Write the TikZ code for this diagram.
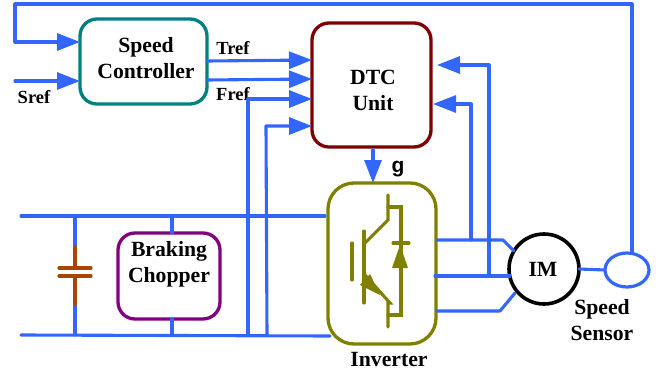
\documentclass[tikz,border=0pt]{standalone}
\usepackage{fontspec}
\setmainfont{Liberation Serif}
\setsansfont{Liberation Sans}
\usetikzlibrary{arrows.meta,calc,shapes.geometric}
\definecolor{wire}{RGB}{51,102,255}
\definecolor{tealbox}{RGB}{0,128,128}
\definecolor{redbox}{RGB}{128,0,0}
\definecolor{olivebox}{RGB}{128,128,0}
\definecolor{purplebox}{RGB}{128,0,128}
\definecolor{capbrown}{RGB}{170,68,0}
\tikzset{
  x=1pt,y=-1pt,
  box/.style={draw,line width=3.3pt,rounded corners=17pt,outer sep=0pt,inner sep=0pt,anchor=north west},
  big/.style={font=\fontsize{21.7}{24}\selectfont\bfseries,anchor=base,inner sep=0pt},
  small/.style={font=\fontsize{18.5}{20}\selectfont\bfseries,anchor=base,inner sep=0pt},
  wireline/.style={draw=wire,line width=3.1pt,line cap=round,line join=round},
  flow/.style={wireline,-{Triangle[length=23pt,width=17pt]}},
  igbt/.style={draw=olivebox,line width=3.1pt,line cap=round,line join=miter},
  capline/.style={draw=capbrown,line width=3.2pt,line cap=round},
}
\begin{document}
\begin{tikzpicture}
\useasboundingbox (0,0) rectangle (662,375);
% blocks
\node[box,draw=tealbox,minimum width=127pt,minimum height=85pt] (sc) at (80,19) {};
\node[box,draw=redbox,minimum width=119pt,minimum height=124pt] (dtc) at (312,23) {};
\node[box,draw=olivebox,rounded corners=26pt,minimum width=108pt,minimum height=161pt] (inv) at (328,183) {};
\node[box,draw=purplebox,minimum width=102pt,minimum height=86pt] (bc) at (118,233) {};
\node[draw=black,circle,line width=3.6pt,minimum size=70pt,inner sep=0pt,outer sep=0pt] (im) at (544,269) {};
\node[draw=wire,ellipse,line width=3.2pt,minimum width=44pt,minimum height=34pt,inner sep=0pt,outer sep=0pt] (sensor) at (627,270) {};
% named ends and corners
\coordinate (topL) at (15,4);
\coordinate (topR) at (632,4);
\coordinate (fbL) at (15,42);
\coordinate (srefS) at (15,81);
\coordinate (gS) at (373,150);
\coordinate (busTL) at (21,216);
\coordinate (busTR) at (325,216);
\coordinate (busBL) at (21,335);
\coordinate (busBR) at (330,336);
\coordinate (capT) at (75,216);
\coordinate (capB) at (75,335);
\coordinate (capTa) at (75,247);
\coordinate (capP1) at (75,268);
\coordinate (capP2) at (75,276);
\coordinate (capBa) at (75,304);
\coordinate (stubT) at (172,216);
\coordinate (stubB) at (172,335);
\coordinate (frefB) at (248,335);
\coordinate (frefC) at (248,99);
\coordinate (vdcB) at (267,335);
\coordinate (vdcC) at (266,126);
\coordinate (p1a) at (437,240);
\coordinate (p1b) at (503,240);
\coordinate (p1c) at (514,251);
\coordinate (p2a) at (435,276);
\coordinate (p2b) at (510,276);
\coordinate (p3a) at (437,311);
\coordinate (p3b) at (500,311);
\coordinate (p3c) at (515,293);
\coordinate (ia) at (471,240);
\coordinate (ib) at (471,104);
\coordinate (ic) at (433,104);
\coordinate (ja) at (489,276);
\coordinate (jb) at (489,65);
\coordinate (jc) at (437,65);
% labels under the wires
\node[small] (t12) at (233,100) {Fref};
% top half connectors
\draw[flow] (sensor.north -| topR) -- (topR) -- (topL) -- (fbL) -- (sc.west |- fbL);
\draw[flow] (srefS) -- (sc.west |- srefS);
\draw[flow] (sc.east |- 0,61) -- (dtc.west |- 0,60);
\draw[flow] (sc.east |- 0,80) -- (dtc.west |- 0,79);
\draw[flow] (frefB) -- (frefC) -- (dtc.west |- frefC);
\draw[flow] (vdcB) -- (vdcC) -- (dtc.west |- vdcC);
\draw[flow] (ia) -- (ib) -- (ic);
\draw[flow] (ja) -- (jb) -- (jc);
\draw[flow] (gS) -- (gS |- inv.north);
% phases and shaft
\draw[wireline] (p1a) -- (p1b) -- (p1c);
\draw[wireline] (p2a) -- (p2b);
\draw[wireline] (p3a) -- (p3b) -- (p3c);
\draw[wireline] (im.east) -- (sensor.west);
% dc bus
\draw[wireline] (busTL) -- (busTR);
\draw[wireline] (busBL) -- (busBR);
\draw[wireline] (capT) -- (capTa);
\draw[wireline] (capBa) -- (capB);
\draw[wireline] (stubT) -- (bc.north -| stubT);
\draw[wireline] (bc.south -| stubB) -- (stubB);
% capacitor
\draw[capline] (capTa) -- (capP1);
\draw[capline] (capP2) -- (capBa);
\draw[capline] (59,268) -- (91,268);
\draw[capline] (59,276) -- (91,276);
% IGBT and diode
\draw[igbt] (388,195) -- (388,220) -- (365,243);
\draw[igbt] (364,231) -- (364,303);
\draw[igbt] (352,243) -- (352,280);
\draw[igbt] (365,275) -- (390,303) -- (388,303) -- (388,327);
\draw[igbt] (388,207) -- (401,207) -- (401,315) -- (388,315);
\draw[igbt] (393,243) -- (409,243);
\fill[olivebox] (370,274) -- (360,285) -- (380,295) -- cycle;
\fill[olivebox] (400,245) -- (392,268) -- (408,268) -- cycle;
% labels
\node[big] (t1) at (146,52) {Speed};
\node[big] (t2) at (146,78) {Controller};
\node[big] (t3) at (373,84) {DTC};
\node[big] (t4) at (373,110) {Unit};
\node[big] (t5) at (169,256) {Braking};
\node[big] (t6) at (169,282) {Chopper};
\node[big] (t7) at (543,276) {IM};
\node[big] (t8) at (602,314) {Speed};
\node[big] (t9) at (602,340) {Sensor};
\node[big] (t10) at (389,366) {Inverter};
\node[small] (t11) at (233,54) {Tref};
\node[small] (t13) at (34,103) {Sref};
\node[font=\fontsize{21}{24}\selectfont\sffamily\bfseries,anchor=base,inner sep=0pt] (t14) at (398,172) {g};
\end{tikzpicture}
\end{document}
